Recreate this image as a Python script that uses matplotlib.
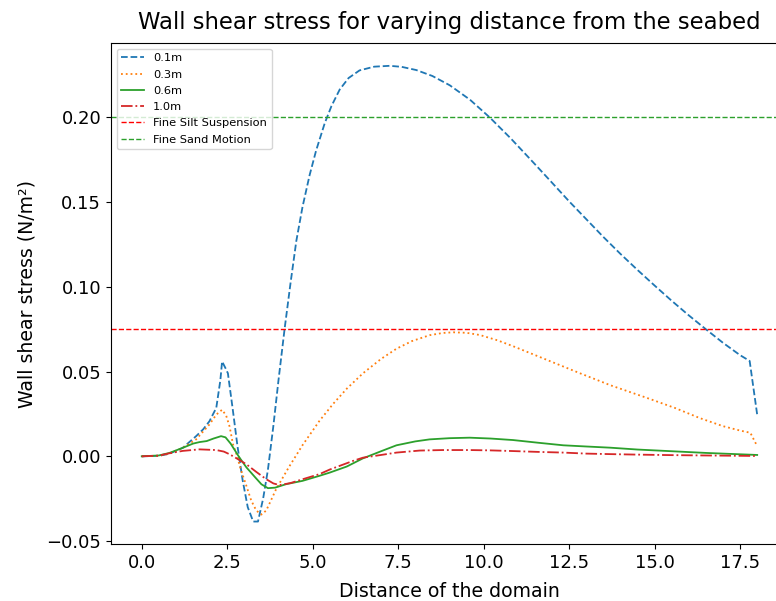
import matplotlib
matplotlib.use("Agg")
import matplotlib.pyplot as plt

# Wall shear stress profiles along the domain for four heights above the seabed
x_01 = [0.0, 0.5, 0.8, 1.2, 1.59, 1.8, 1.98, 2.18, 2.3, 2.35, 2.45, 2.52, 2.66, 2.8, 2.95,
        3.1, 3.26, 3.40, 3.55, 3.69, 3.85, 4.0, 4.18, 4.35, 4.52, 4.7, 4.91, 5.1, 5.35,
        5.55, 5.79, 6.05, 6.37, 6.8, 7.25, 7.6, 8.03, 8.5, 9.01, 9.6, 10.18, 10.8, 11.45,
        12.0, 12.5, 13.0, 13.5, 14.0, 14.5, 15.0, 15.5, 16.0, 16.5, 17.0, 17.5, 17.78, 18.0]
tau_01 = [0.0, 0.0003, 0.0015, 0.005, 0.0119, 0.016, 0.0207, 0.0286, 0.045, 0.056, 0.052,
          0.049, 0.028, 0.006, -0.014, -0.030, -0.0385, -0.0385, -0.025, -0.008, 0.018,
          0.045, 0.0755, 0.102, 0.127, 0.147, 0.166, 0.1805, 0.1965, 0.2068, 0.2165,
          0.2233, 0.2278, 0.2300, 0.2305, 0.2299, 0.228, 0.2245, 0.219, 0.2105, 0.200,
          0.1875, 0.1735, 0.1615, 0.1505, 0.140, 0.1295, 0.1195, 0.110, 0.1008, 0.0918,
          0.0832, 0.075, 0.067, 0.0597, 0.0563, 0.0246]

x_03 = [0.0, 0.5, 0.8, 1.2, 1.59, 1.98, 2.18, 2.35, 2.47, 2.57, 2.67, 2.76, 2.9, 3.06,
        3.2, 3.35, 3.5, 3.64, 3.78, 3.93, 4.3, 4.7, 5.2, 5.6, 6.0, 6.47, 7.0, 7.45, 7.9,
        8.42, 8.8, 9.11, 9.5, 9.89, 10.4, 10.86, 11.35, 11.84, 12.33, 12.82, 13.3, 13.7,
        14.3, 14.87, 15.6, 16.33, 17.0, 17.5, 17.8, 18.0]
tau_03 = [0.0, 0.0003, 0.0015, 0.005, 0.010, 0.0188, 0.0246, 0.0275, 0.024, 0.0175, 0.007,
          0.002, -0.008, -0.0174, -0.026, -0.032, -0.0344, -0.032, -0.026, -0.0194,
          -0.0065, 0.0065, 0.021, 0.031, 0.040, 0.049, 0.0575, 0.0635, 0.068, 0.0715,
          0.0728, 0.0732, 0.0729, 0.0716, 0.0685, 0.0650, 0.061, 0.057, 0.053, 0.049,
          0.0452, 0.042, 0.0378, 0.0338, 0.0285, 0.0225, 0.0178, 0.0152, 0.0139, 0.006]

x_06 = [0.0, 0.5, 0.81, 1.2, 1.5, 1.69, 1.9, 2.1, 2.32, 2.45, 2.6, 2.71, 2.85, 3.06, 3.3,
        3.5, 3.69, 3.9, 4.23, 4.7, 5.2, 5.5, 6.0, 6.47, 7.0, 7.45, 8.0, 8.42, 9.0, 9.59,
        10.2, 10.86, 11.6, 12.33, 13.0, 13.7, 14.5, 15.5, 16.5, 17.5, 18.0]
tau_06 = [0.0, 0.0005, 0.002, 0.005, 0.0075, 0.0084, 0.009, 0.0105, 0.0119, 0.0112, 0.0075,
          0.004, -0.0005, -0.0065, -0.012, -0.0165, -0.0188, -0.0185, -0.0164, -0.0145,
          -0.0115, -0.0096, -0.006, -0.0012, 0.003, 0.0065, 0.0088, 0.010, 0.0107, 0.011,
          0.0105, 0.0096, 0.008, 0.0065, 0.0058, 0.0051, 0.004, 0.003, 0.002, 0.0012, 0.0008]

x_10 = [0.0, 0.5, 0.81, 1.2, 1.69, 2.18, 2.4, 2.57, 2.8, 3.06, 3.35, 3.64, 3.85, 4.03, 4.35,
        4.71, 5.2, 5.5, 6.18, 6.47, 7.0, 7.45, 8.13, 8.8, 9.59, 10.2, 10.86, 11.6, 12.33,
        13.0, 13.7, 14.5, 15.5, 16.5, 17.5, 18.0]
tau_10 = [0.0, 0.0004, 0.0018, 0.0032, 0.0041, 0.0037, 0.0028, 0.0012, -0.0015, -0.0047,
          -0.0092, -0.0135, -0.016, -0.017, -0.0158, -0.0135, -0.0105, -0.0078, -0.0027,
          -0.0008, 0.0008, 0.0022, 0.0034, 0.0037, 0.0037, 0.0035, 0.0031, 0.0026, 0.0022,
          0.0016, 0.0013, 0.001, 0.0007, 0.0005, 0.0003, 0.0002]

# Sediment transport thresholds (N/m^2)
silt_threshold = 0.075
sand_threshold = 0.20

fig = plt.figure(figsize=(7.76, 6.01), dpi=100)
ax = fig.add_axes([0.1430, 0.0943, 0.8724, 0.8341])

lw = 1.3
ax.plot(x_01, tau_01, linestyle="--", color="tab:blue", lw=lw, label="0.1m")
ax.plot(x_03, tau_03, linestyle=":", color="tab:orange", lw=lw, label="0.3m")
ax.plot(x_06, tau_06, linestyle="-", color="tab:green", lw=lw, label="0.6m")
ax.plot(x_10, tau_10, linestyle="-.", color="tab:red", lw=lw, label="1.0m")
ax.axhline(silt_threshold, color="red", linestyle="--", lw=1.0, label="Fine Silt Suspension")
ax.axhline(sand_threshold, color="tab:green", linestyle="--", lw=1.0, label="Fine Sand Motion")

ax.set_title("Wall shear stress for varying distance from the seabed", fontsize=16.4, pad=10)
ax.set_xlabel("Distance of the domain", fontsize=13.6, labelpad=7)
ax.set_ylabel("Wall shear stress (N/m²)", fontsize=13.6, labelpad=7)
ax.tick_params(labelsize=13)
ax.legend(loc="upper left", fontsize=8.2, labelspacing=0.55)

fig.savefig("out.png", dpi=100)
